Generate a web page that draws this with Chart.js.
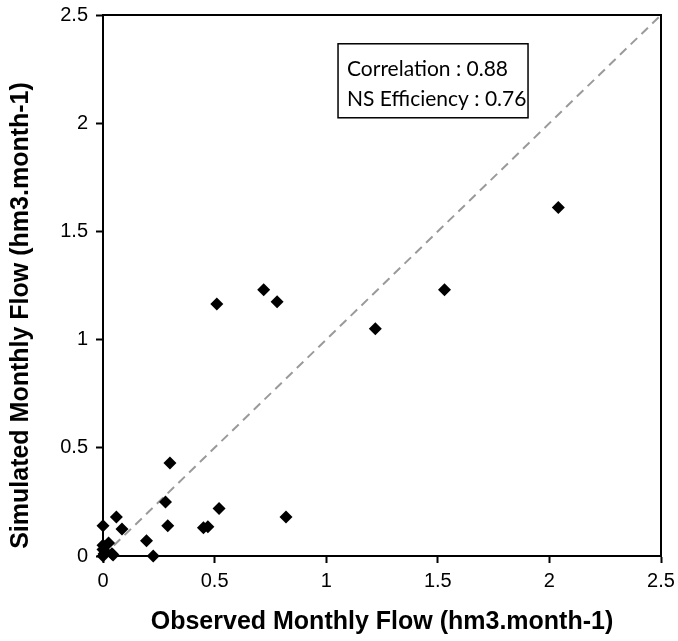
<!DOCTYPE html>
<html>
<head>
<meta charset="utf-8">
<script src="https://cdn.jsdelivr.net/npm/chart.js@4.4.1/dist/chart.umd.min.js"></script>
<style>
	html, body { margin: 0; padding: 0; background: #fff; }
	#wrap { width: 678px; height: 641px; }
</style>
</head>
<body>
<div id="wrap"><canvas id="flowChart"></canvas></div>
<script>
/* -------------------- data -------------------- */

// observed vs simulated monthly flow, hm3.month-1
var observed  = [ 2.04, 1.53, 1.22, 0.72, 0.78, 0.51, 0.30, 0.28, 0.52, 0.82, 0.29, 0.45, 0.47,
                  0.06, 0.00, 0.085, 0.195, 0.225, 0.025, 0.00, 0.005, 0.01, 0.00, 0.045, 0.04, 0.00 ];
var simulated = [ 1.61, 1.23, 1.05, 1.23, 1.175, 1.165, 0.43, 0.25, 0.22, 0.18, 0.14, 0.13, 0.135,
                  0.18, 0.14, 0.125, 0.07, 0.00, 0.06, 0.03, 0.01, 0.02, 0.00, 0.005, 0.01, 0.05 ];

// 1:1 line
var lineX = [ 0, 2.5 ];
var lineY = [ 0, 2.5 ];

var axisTicks = [ 0, 0.5, 1, 1.5, 2, 2.5 ];

var xTitle = 'Observed Monthly Flow (hm3.month-1)';
var yTitle = 'Simulated Monthly Flow (hm3.month-1)';

var statsText = [
	'Correlation : 0.88',
	'NS Efficiency : 0.76'
];

/* -------------------- plugins -------------------- */

// top and right edges of the plot frame
var frame = {
	id: 'frame',
	afterDraw: function (chart) {
		var c = chart.ctx, a = chart.chartArea;
		c.save();
		c.strokeStyle = '#000';
		c.lineWidth = 2;
		c.beginPath();
		c.moveTo(a.left, a.top);
		c.lineTo(a.right, a.top);
		c.lineTo(a.right, a.bottom);
		c.stroke();
		c.restore();
	}
};

// y title sits a little below the middle of the axis
var yAxisTitle = {
	id: 'yAxisTitle',
	afterDraw: function (chart) {
		var c = chart.ctx, a = chart.chartArea;
		c.save();
		c.translate(21, (a.top + a.bottom) / 2 + 30);
		c.rotate(-Math.PI / 2);
		c.fillStyle = '#000';
		c.font = 'bold 25px "Liberation Sans"';
		c.textAlign = 'center';
		c.textBaseline = 'middle';
		c.fillText(yTitle, 0, 0);
		c.restore();
	}
};

// stats box in the upper part of the plot
var statsBox = {
	id: 'statsBox',
	afterDraw: function (chart) {
		var c = chart.ctx;
		var x = chart.scales.x.getPixelForValue(1.053);
		var y = chart.scales.y.getPixelForValue(2.367);
		c.save();
		c.fillStyle = '#fff';
		c.fillRect(x, y, 190, 74);
		c.strokeStyle = '#000';
		c.lineWidth = 1.5;
		c.strokeRect(x, y, 190, 74);
		c.fillStyle = '#000';
		c.font = '21px Lato';
		c.textBaseline = 'middle';
		statsText.forEach(function (t, i) {
			c.fillText(t, x + 9, y + 25 + i * 30);
		});
		c.restore();
	}
};

/* -------------------- chart -------------------- */

var ctx = document.getElementById('flowChart').getContext('2d');

var points = observed.map(function (v, i) { return { x: v, y: simulated[i] }; });
var diag = lineX.map(function (v, i) { return { x: v, y: lineY[i] }; });

var tickFont = { family: 'Liberation Sans', size: 20 };
var titleFont = { family: 'Liberation Sans', size: 25, weight: 'bold' };

function plainTicks(s) {
	s.ticks = axisTicks.map(function (v) { return { value: v }; });
}
function plainLabel(v) {
	return String(v);
}

var flowChart = new Chart(ctx, {
	type: 'scatter',
	data: {
		datasets: [{
			data: points,
			pointStyle: 'rectRot',
			pointRadius: 6.5,
			pointHoverRadius: 6.5,
			backgroundColor: '#000',
			borderColor: '#000',
			borderWidth: 0,
			clip: false,
			order: 1
		}, {
			type: 'line',
			data: diag,
			borderColor: '#9a9a9a',
			borderWidth: 2,
			borderDash: [ 9, 6 ],
			pointRadius: 0,
			fill: false,
			order: 2
		}]
	},
	options: {
		responsive: true,
		maintainAspectRatio: false,
		animation: false,
		events: [],
		layout: {
			padding: {
				left:   0,
				right:  17,
				top:    15,
				bottom: 0
			}
		},
		plugins: {
			legend: { display: false },
			tooltip: { enabled: false }
		},
		scales: {
			x: {
				type: 'linear',
				min: 0,
				max: 2.5,
				afterBuildTicks: plainTicks,
				afterFit: function (s) {
					s.height = 85;
					s.paddingLeft = 0;
					s.paddingRight = 0;
				},
				grid: {
					drawOnChartArea: false,
					drawTicks: true,
					tickLength: 7,
					tickWidth: 2,
					color: '#000'
				},
				border: { color: '#000', width: 2 },
				ticks: { color: '#000', font: tickFont, padding: 6, maxRotation: 0, callback: plainLabel },
				title: {
					display: true,
					text: xTitle,
					color: '#000',
					font: titleFont,
					padding: { top: 0, bottom: 4 }
				}
			},
			y: {
				type: 'linear',
				min: 0,
				max: 2.5,
				afterBuildTicks: plainTicks,
				afterFit: function (s) {
					s.width = 103;
					s.paddingTop = 0;
					s.paddingBottom = 0;
				},
				grid: {
					drawOnChartArea: false,
					drawTicks: true,
					tickLength: 7,
					tickWidth: 2,
					color: '#000'
				},
				border: { color: '#000', width: 2 },
				ticks: { color: '#000', font: tickFont, padding: 8, callback: plainLabel }
			}
		}
	},
	plugins: [ frame, yAxisTitle, statsBox ]
});
</script>
</body>
</html>
